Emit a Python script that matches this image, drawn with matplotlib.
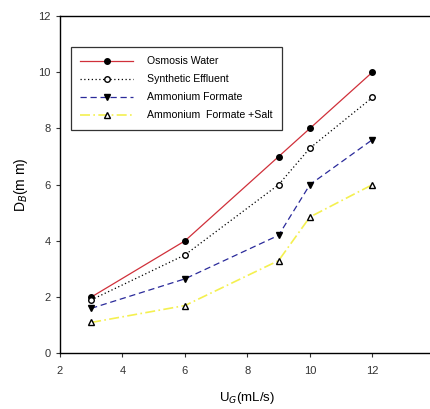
import matplotlib.pyplot as plt

plt.rcParams['font.family'] = ['Liberation Sans', 'DejaVu Sans']

ug = [3, 6, 9, 10, 12]
osmosis = [2.0, 4.0, 7.0, 8.0, 10.0]
synthetic = [1.9, 3.5, 6.0, 7.3, 9.1]
formate = [1.6, 2.65, 4.2, 6.0, 7.6]
formate_salt = [1.1, 1.7, 3.3, 4.85, 6.0]

fig = plt.figure(figsize=(4.31, 4.09), dpi=100)
ax = fig.add_axes([0.139, 0.136, 0.870, 0.825])

ax.plot(ug, osmosis, color='#d0303a', lw=0.9, marker='o', ms=4,
        mfc='black', mec='black', label='Osmosis Water')
ax.plot(ug, synthetic, color='black', lw=0.9, ls=(0, (1, 2)), marker='o', ms=4,
        mfc='white', mec='black', label='Synthetic Effluent')
ax.plot(ug, formate, color='#2a2a9a', lw=0.9, ls=(0, (5, 3)), marker='v', ms=4.5,
        mfc='black', mec='black', label='Ammonium Formate')
ax.plot(ug, formate_salt, color='#f4f050', lw=1.2, ls=(0, (6, 2, 1, 2)), marker='^', ms=4.5,
        mfc='white', mec='black', label='Ammonium  Formate +Salt')

ax.set_xlim(2, 14)
ax.set_ylim(0, 12)
ax.set_xticks([2, 4, 6, 8, 10, 12, 14])
ax.set_yticks([0, 2, 4, 6, 8, 10, 12])
ax.tick_params(labelsize=8, length=3, width=0.8, colors='#333333')
ax.tick_params(axis='x', pad=6)
for s in ax.spines.values():
    s.set_linewidth(1.0)

ax.set_xlabel('U$_G$(mL/s)', fontsize=9.5, labelpad=10)
ax.set_ylabel('D$_B$(m m)', fontsize=10, labelpad=6)

leg = ax.legend(loc='upper left', bbox_to_anchor=(0.029, 0.908), borderaxespad=0,
                fontsize=7.6, frameon=True, fancybox=False, edgecolor='black',
                handlelength=5.0, borderpad=0.9, labelspacing=0.75, handletextpad=1.3)
leg.get_frame().set_linewidth(0.9)

fig.savefig('out.png', dpi=100)
